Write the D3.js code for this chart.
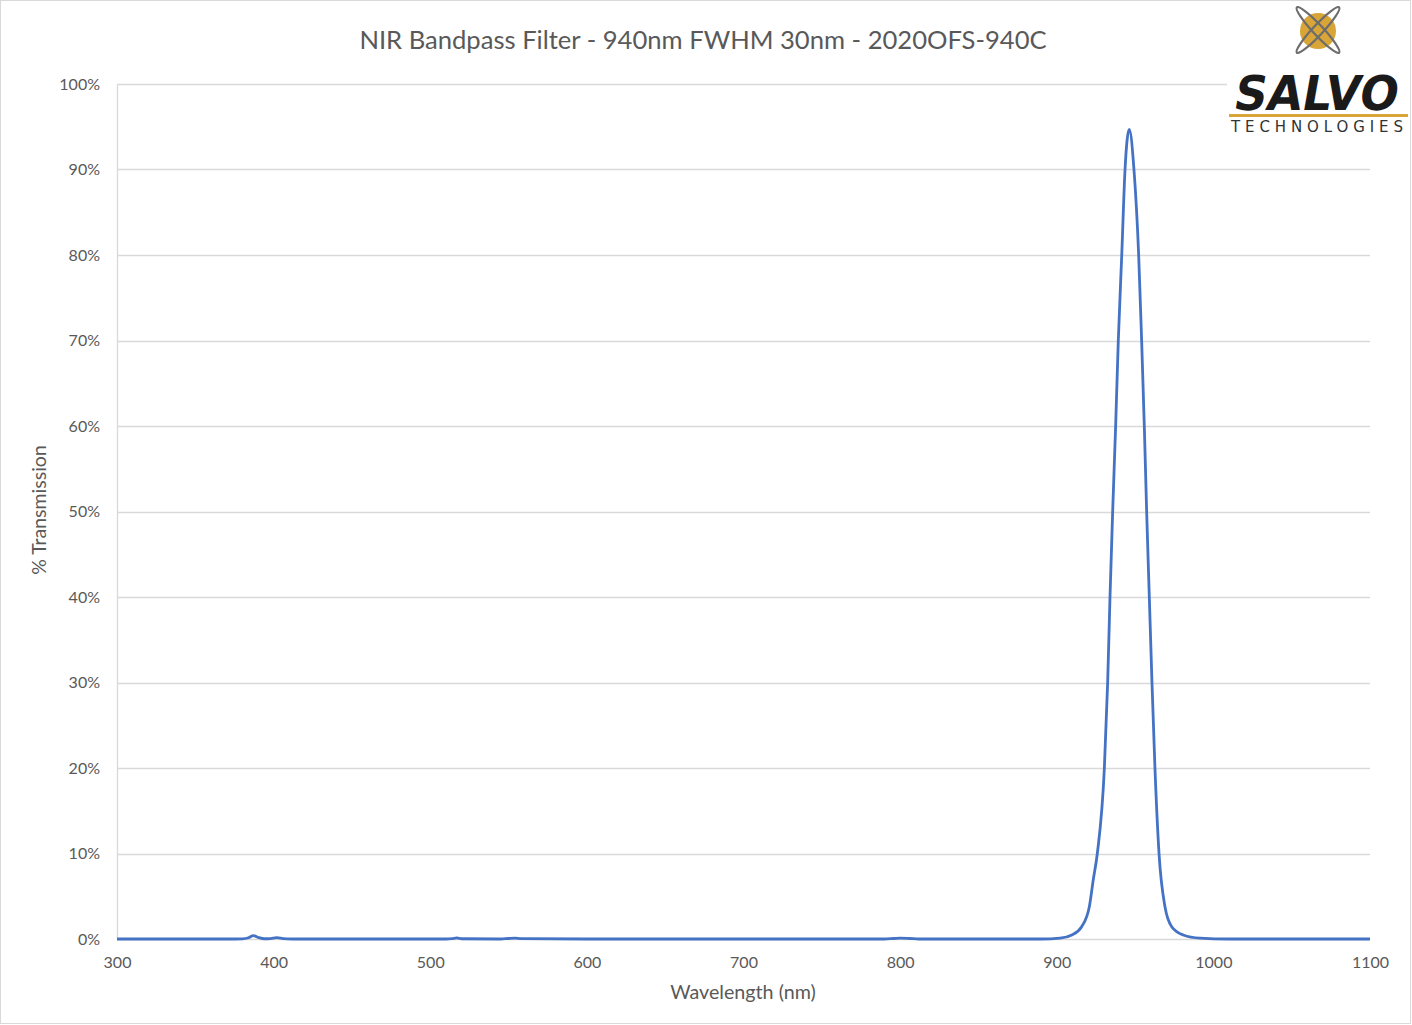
<!DOCTYPE html>
<html>
<head>
<meta charset="utf-8">
<script src="https://cdn.jsdelivr.net/npm/d3@7"></script>
<style>
  body { margin: 0; background: #fff; }
  text { font-family: Lato, "Open Sans", sans-serif; fill: #595959; }
</style>
</head>
<body>
<script>
// wavelength (nm) and transmission (%)
var wavelength = [300, 370, 380, 384, 387, 390, 394, 398, 402, 406, 412, 510, 514, 517, 520, 545, 550, 554, 558, 600, 790, 796, 800, 806, 812,
  890, 902.1, 909.6, 915.9, 920.8, 923.3, 925.9, 930.4, 932.5, 934.0, 935.7, 937.6, 939.3, 941.5, 943.6, 946.3,
  949.3, 952.3, 954.2, 955.9, 957.4, 959.1, 960.8, 962.7, 965.3, 969.1, 973.4, 980.8, 991.5, 1010, 1100];
var transmission = [0, 0, 0.02, 0.15, 0.4, 0.2, 0.03, 0.05, 0.15, 0.05, 0, 0, 0.05, 0.12, 0.03, 0, 0.06, 0.1, 0.05, 0, 0, 0.06, 0.1, 0.06, 0,
  0, 0.1, 0.47, 1.44, 3.77, 6.9, 10, 20, 30, 40, 50, 60, 70, 80, 90, 94.7,
  90, 80, 70, 60, 50, 40, 30, 20, 10, 3.77, 1.44, 0.47, 0.1, 0, 0];

var xTicks = [300, 400, 500, 600, 700, 800, 900, 1000, 1100];
var yTicks = [0, 10, 20, 30, 40, 50, 60, 70, 80, 90, 100];

var W = 1412, H = 1025;
var margin = {top: 84, right: 42, bottom: 86, left: 117};
var width = W - margin.left - margin.right,
    height = H - margin.top - margin.bottom;

var data = wavelength.map(function(d, i) { return [d, transmission[i]]; });

var svg = d3.select('body').append('svg')
  .attr('width', W).attr('height', H);

svg.append('rect')
  .attr('x', 0.5).attr('y', 0.5)
  .attr('width', W - 2).attr('height', H - 2)
  .attr('fill', '#fff').attr('stroke', '#d9d9d9');

var x = d3.scaleLinear().domain([300, 1100]).range([0, width]);
var y = d3.scaleLinear().domain([0, 100]).range([height, 0]);

var main = svg.append('g')
  .attr('transform', 'translate(' + margin.left + ',' + margin.top + ')');

// gridlines
main.append('g')
  .selectAll('line')
  .data(yTicks)
  .enter().append('line')
  .attr('x1', 0).attr('x2', width)
  .attr('y1', function(d) { return Math.round(y(d)) + 0.5; })
  .attr('y2', function(d) { return Math.round(y(d)) + 0.5; })
  .attr('stroke', '#d9d9d9').attr('stroke-width', 1.3);

// vertical axis line
main.append('line')
  .attr('x1', 0.5).attr('x2', 0.5)
  .attr('y1', 0).attr('y2', height)
  .attr('stroke', '#d9d9d9').attr('stroke-width', 1.3);

// y tick labels
var yAxis = d3.axisLeft(y).tickValues(yTicks)
  .tickFormat(function(d) { return d + '%'; })
  .tickSize(0).tickPadding(17);
main.append('g').call(yAxis)
  .call(function(g) { g.select('.domain').remove(); })
  .selectAll('text')
  .style('font-size', '16px').attr('fill', '#595959')
  .style('font-family', 'Lato, "Open Sans", sans-serif');

// x tick labels
var xAxis = d3.axisBottom(x).tickValues(xTicks).tickFormat(d3.format('d'))
  .tickSize(0).tickPadding(18);
main.append('g').attr('transform', 'translate(0,' + height + ')').call(xAxis)
  .call(function(g) { g.select('.domain').remove(); })
  .selectAll('text')
  .style('font-size', '16px').attr('fill', '#595959')
  .style('font-family', 'Lato, "Open Sans", sans-serif');

// transmission curve
var line = d3.line()
  .x(function(d) { return x(d[0]); })
  .y(function(d) { return y(d[1]); })
  .curve(d3.curveMonotoneX);

main.append('path')
  .datum(data)
  .attr('d', line)
  .attr('fill', 'none')
  .attr('stroke', '#4472c4')
  .attr('stroke-width', 2.8)
  .attr('stroke-linejoin', 'round');

// titles
svg.append('text')
  .attr('x', 703).attr('y', 49)
  .attr('text-anchor', 'middle')
  .style('font-size', '25.6px')
  .text('NIR Bandpass Filter - 940nm FWHM 30nm - 2020OFS-940C');

svg.append('text')
  .attr('x', 743).attr('y', 999)
  .attr('text-anchor', 'middle')
  .style('font-size', '19.7px')
  .text('Wavelength (nm)');

svg.append('text')
  .attr('transform', 'translate(46,510) rotate(-90)')
  .attr('text-anchor', 'middle')
  .style('font-size', '19.5px')
  .text('% Transmission');

// logo
var logo = svg.append('g');
logo.append('rect')
  .attr('x', 1227).attr('y', 4).attr('width', 182).attr('height', 134)
  .attr('fill', '#fff');
logo.append('circle')
  .attr('cx', 1318).attr('cy', 31).attr('r', 18)
  .attr('fill', '#d9a536');
logo.append('ellipse')
  .attr('cx', 1318).attr('cy', 30).attr('rx', 31).attr('ry', 5)
  .attr('transform', 'rotate(47,1318,30)')
  .attr('fill', 'none').attr('stroke', '#6d6d6d').attr('stroke-width', 2.2);
logo.append('ellipse')
  .attr('cx', 1318).attr('cy', 30).attr('rx', 31).attr('ry', 5)
  .attr('transform', 'rotate(-47,1318,30)')
  .attr('fill', 'none').attr('stroke', '#6d6d6d').attr('stroke-width', 2.2);
logo.append('text')
  .attr('x', 1314).attr('y', 110)
  .attr('text-anchor', 'middle')
  .attr('transform', 'translate(1314,110) skewX(-10) translate(-1314,-110)')
  .style('font-family', '"DejaVu Sans", sans-serif')
  .style('font-weight', 'bold')
  .style('font-size', '48px')
  .style('fill', '#1a1a1a')
  .attr('textLength', 164)
  .attr('lengthAdjust', 'spacingAndGlyphs')
  .text('SALVO');
logo.append('rect')
  .attr('x', 1229).attr('y', 114).attr('width', 179).attr('height', 3)
  .attr('fill', '#d9a536');
logo.append('text')
  .attr('x', 1317).attr('y', 132)
  .attr('text-anchor', 'middle')
  .style('font-family', '"DejaVu Sans", sans-serif')
  .style('font-size', '15px')
  .style('fill', '#333')
  .attr('textLength', 172)
  .attr('lengthAdjust', 'spacing')
  .text('TECHNOLOGIES');
</script>
</body>
</html>
